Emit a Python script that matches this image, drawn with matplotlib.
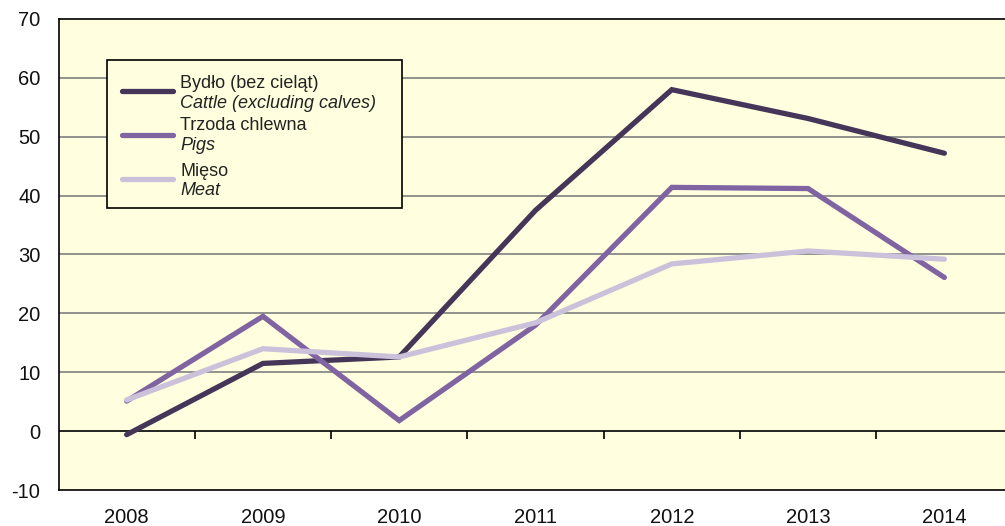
import matplotlib
matplotlib.use("Agg")
import matplotlib.pyplot as plt
from matplotlib.patches import Rectangle
from matplotlib.lines import Line2D

years = ["2008", "2009", "2010", "2011", "2012", "2013", "2014"]
cattle = [-0.6, 11.5, 12.6, 37.5, 58.0, 53.1, 47.2]
pigs = [5.1, 19.5, 1.8, 18.0, 41.4, 41.2, 26.1]
meat = [5.3, 14.0, 12.6, 18.4, 28.4, 30.6, 29.2]

labels_pl = ["Bydło (bez cieląt)", "Trzoda chlewna", "Mięso"]
labels_en = ["Cattle (excluding calves)", "Pigs", "Meat"]
colors = ["#453659", "#8064A2", "#CCC1DA"]
yticks = [-10, 0, 10, 20, 30, 40, 50, 60, 70]

plt.rcParams['font.family'] = ['Liberation Sans', 'DejaVu Sans']
W, H = 1005, 526
fig = plt.figure(figsize=(W / 100, H / 100), dpi=100)
fig.patch.set_facecolor("white")

def px(x, y):
    return x / W, 1 - y / H

left, right, top, bottom = 58.5, 1012.5, 19, 490
ax = fig.add_axes([left / W, 1 - bottom / H, (right - left) / W, (bottom - top) / H])
ax.set_facecolor("#FFFFE0")

x = list(range(len(years)))
for vals, c in zip([cattle, pigs, meat], colors):
    ax.plot(x, vals, color=c, lw=3.8, solid_capstyle='round', solid_joinstyle='miter', zorder=3)

ax.set_xlim(-0.5, len(years) - 0.5)
ax.set_ylim(-10, 70)
ax.set_yticks(yticks)
ax.set_yticklabels([str(v) for v in yticks], fontsize=14.5, color="#111111")
ax.set_xticks(x)
ax.set_xticklabels(years, fontsize=14.5, color="#111111")
ax.tick_params(axis='both', length=0)
ax.tick_params(axis='y', pad=13)
ax.tick_params(axis='x', pad=13)
for v in yticks[2:-1]:
    ax.axhline(v, color="#808080", lw=1.2, zorder=1)
ax.axhline(0, color="black", lw=1.2, zorder=2)
for s in ['left', 'top', 'bottom']:
    ax.spines[s].set_color("black")
    ax.spines[s].set_linewidth(1.2)
ax.spines['right'].set_visible(False)

sec = ax.secondary_xaxis(0, transform=ax.transData)
sec.set_xticks([i + 0.5 for i in x[:-1]])
sec.set_xticklabels([])
sec.tick_params(direction='out', length=6, width=1.2, color='black')
sec.spines['bottom'].set_visible(False)

# legend box
lx0, ly0, lx1, ly1 = 107, 60, 402, 208
a0 = px(lx0, ly1)
fig.patches.append(Rectangle(a0, (lx1 - lx0) / W, (ly1 - ly0) / H, transform=fig.transFigure,
                             facecolor="#FFFFE0", edgecolor="black", lw=1.2, zorder=5))
sw_y = [91, 135, 179]
t1_y = [84, 125, 171]
t2_y = [103, 145, 191]
for i in range(3):
    xa, ya = px(122, sw_y[i])
    xb, _ = px(173, sw_y[i])
    fig.lines.append(Line2D([xa, xb], [ya, ya], transform=fig.transFigure, color=colors[i],
                            lw=3.8, solid_capstyle='round', zorder=6))
    tx, ty = px(180, t1_y[i])
    fig.text(tx, ty, labels_pl[i], fontsize=13, va='center', ha='left', color="#222222", zorder=6)
    tx, ty = px(180, t2_y[i])
    fig.text(tx, ty, labels_en[i], fontsize=13, va='center', ha='left', style='italic',
             color="#222222", zorder=6)

fig.savefig("out.png", dpi=100)
